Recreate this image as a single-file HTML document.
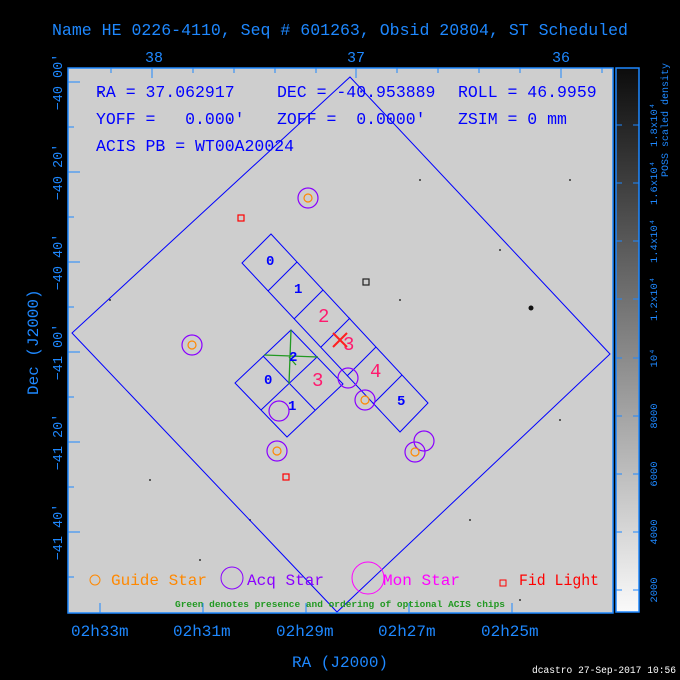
<!DOCTYPE html>
<html><head><style>
body{margin:0;background:#000;}
svg{display:block;}
text{font-family:"Liberation Mono",monospace;}
</style></head><body>
<svg width="680" height="680" viewBox="0 0 680 680" xmlns="http://www.w3.org/2000/svg">
<defs>
<linearGradient id="cb" x1="0" y1="1" x2="0" y2="0">
<stop offset="0" stop-color="#fafafa"/><stop offset="1" stop-color="#0c0c0c"/>
</linearGradient>
</defs>
<rect width="680" height="680" fill="#000"/>
<text x="52" y="35" fill="#1e88ff" font-size="17" textLength="576" lengthAdjust="spacingAndGlyphs">Name HE 0226-4110, Seq # 601263, Obsid 20804, ST Scheduled</text>
<rect x="68" y="68" width="545" height="545" fill="#cecece"/>
<g fill="#333">
<circle cx="100" cy="93" r="1"/><circle cx="160" cy="150" r="1"/><circle cx="230" cy="120" r="1"/><circle cx="420" cy="180" r="1"/><circle cx="500" cy="250" r="1"/><circle cx="560" cy="420" r="1"/><circle cx="150" cy="480" r="1"/><circle cx="470" cy="520" r="1"/><circle cx="200" cy="560" r="1"/><circle cx="570" cy="180" r="1"/><circle cx="110" cy="300" r="1"/><circle cx="400" cy="300" r="1"/><circle cx="250" cy="520" r="1"/><circle cx="520" cy="600" r="1"/>
<circle cx="531" cy="308" r="2.5" fill="#111"/>
</g>
<polygon points="350,77 610,354 337,612 72,333" fill="none" stroke="#0000ff" stroke-width="1"/>
<g fill="none" stroke="#0000ff" stroke-width="1">
<polygon points="271,234 428,403 400,432 242,263"/>
<line x1="297" y1="262" x2="268" y2="291"/>
<line x1="323" y1="290" x2="294" y2="319"/>
<line x1="350" y1="318" x2="321" y2="347"/>
<line x1="376" y1="347" x2="347" y2="376"/>
<line x1="402" y1="375" x2="373" y2="404"/>
<polygon points="291,330 343,384 287,437 235,383"/>
<line x1="263" y1="356" x2="315" y2="410"/>
<line x1="317" y1="357" x2="261" y2="410"/>
</g>
<g stroke="#229922" stroke-width="1.3" fill="none">
<line x1="291" y1="330" x2="289" y2="384"/>
<line x1="264" y1="355" x2="318" y2="357"/>
<line x1="289" y1="357" x2="296" y2="365"/>
</g>
<g font-size="14" fill="#0000ff" font-weight="bold">
<text x="266" y="265">0</text><text x="294" y="293">1</text><text x="397" y="405">5</text>
<text x="264" y="384">0</text><text x="288" y="410">1</text><text x="289" y="361">2</text>
</g>
<g font-size="19" fill="#ff1a6e">
<text x="318" y="322">2</text><text x="343" y="350">3</text><text x="370" y="377">4</text><text x="312" y="386">3</text>
</g>
<g stroke="#ff2020" stroke-width="2"><line x1="333" y1="333" x2="347" y2="347"/><line x1="347" y1="333" x2="333" y2="347"/></g>
<g fill="none" stroke="#8a00ff" stroke-width="1.2">
<circle cx="308" cy="198" r="10"/><circle cx="192" cy="345" r="10"/><circle cx="365" cy="400" r="10"/><circle cx="277" cy="451" r="10"/><circle cx="415" cy="452" r="10"/><circle cx="424" cy="441" r="10"/><circle cx="279" cy="411" r="10"/><circle cx="348" cy="378" r="10"/>
</g>
<g fill="none" stroke="#ff8800" stroke-width="1.2">
<circle cx="308" cy="198" r="4"/><circle cx="192" cy="345" r="4"/><circle cx="365" cy="400" r="4"/><circle cx="277" cy="451" r="4"/><circle cx="415" cy="452" r="4"/>
</g>
<g fill="none" stroke-width="1.2">
<rect x="238" y="215" width="6" height="6" stroke="#ff0000"/><rect x="283" y="474" width="6" height="6" stroke="#ff0000"/><rect x="363" y="279" width="6" height="6" stroke="#222"/>
</g>
<g fill="#0000ff" font-size="16.5">
<text x="96" y="97">RA = 37.062917</text><text x="277" y="97">DEC = -40.953889</text><text x="458" y="97">ROLL = 46.9959</text>
<text x="96" y="124" xml:space="preserve">YOFF =   0.000′</text><text x="277" y="124" xml:space="preserve">ZOFF =  0.0000′</text><text x="458" y="124">ZSIM = 0 mm</text>
<text x="96" y="151">ACIS PB = WT00A20024</text>
</g>
<circle cx="95" cy="580" r="5" fill="none" stroke="#ff8800"/>
<text x="111" y="585" fill="#ff8800" font-size="16" textLength="96" lengthAdjust="spacingAndGlyphs">Guide Star</text>
<circle cx="232" cy="578" r="11" fill="none" stroke="#8a00ff"/>
<text x="247" y="585" fill="#8a00ff" font-size="16" textLength="77" lengthAdjust="spacingAndGlyphs">Acq Star</text>
<circle cx="368" cy="578" r="16" fill="none" stroke="#ff00ff"/>
<text x="383" y="585" fill="#ff00ff" font-size="16" textLength="77" lengthAdjust="spacingAndGlyphs">Mon Star</text>
<rect x="500" y="580" width="6" height="6" fill="none" stroke="#ff0000"/>
<text x="519" y="585" fill="#ff0000" font-size="16" textLength="80" lengthAdjust="spacingAndGlyphs">Fid Light</text>
<text x="175" y="607" fill="#229922" font-size="9.5" font-weight="bold" textLength="330" lengthAdjust="spacingAndGlyphs">Green denotes presence and ordering of optional ACIS chips</text>
<rect x="68" y="68" width="545" height="545" fill="none" stroke="#1e88ff" stroke-width="1.5"/>
<g stroke="#1e88ff" stroke-width="1">
<line x1="152" y1="68" x2="152" y2="78"/><line x1="356" y1="68" x2="356" y2="78"/><line x1="561" y1="68" x2="561" y2="78"/>
<line x1="111" y1="68" x2="111" y2="73"/><line x1="193" y1="68" x2="193" y2="73"/><line x1="234" y1="68" x2="234" y2="73"/><line x1="275" y1="68" x2="275" y2="73"/><line x1="316" y1="68" x2="316" y2="73"/><line x1="397" y1="68" x2="397" y2="73"/><line x1="438" y1="68" x2="438" y2="73"/><line x1="479" y1="68" x2="479" y2="73"/><line x1="520" y1="68" x2="520" y2="73"/><line x1="602" y1="68" x2="602" y2="73"/>
<line x1="100" y1="613" x2="100" y2="603"/><line x1="203" y1="613" x2="203" y2="603"/><line x1="306" y1="613" x2="306" y2="603"/><line x1="409" y1="613" x2="409" y2="603"/><line x1="512" y1="613" x2="512" y2="603"/>
<line x1="68" y1="82" x2="80" y2="82"/><line x1="68" y1="172" x2="80" y2="172"/><line x1="68" y1="262" x2="80" y2="262"/><line x1="68" y1="352" x2="80" y2="352"/><line x1="68" y1="442" x2="80" y2="442"/><line x1="68" y1="532" x2="80" y2="532"/>
<line x1="68" y1="127" x2="74" y2="127"/><line x1="68" y1="217" x2="74" y2="217"/><line x1="68" y1="307" x2="74" y2="307"/><line x1="68" y1="397" x2="74" y2="397"/><line x1="68" y1="487" x2="74" y2="487"/><line x1="68" y1="577" x2="74" y2="577"/>
</g>
<g fill="#1e88ff" font-size="15">
<text x="145" y="62">38</text><text x="347" y="62">37</text><text x="552" y="62">36</text>
<g font-size="16">
<text x="71" y="636">02h33m</text><text x="173" y="636">02h31m</text><text x="276" y="636">02h29m</text><text x="378" y="636">02h27m</text><text x="481" y="636">02h25m</text>
<text x="292" y="667">RA (J2000)</text>
</g>
<g font-size="13.5" text-anchor="middle">
<text transform="translate(62,82) rotate(-90)">−40 00′</text>
<text transform="translate(62,172) rotate(-90)">−40 20′</text>
<text transform="translate(62,262) rotate(-90)">−40 40′</text>
<text transform="translate(62,352) rotate(-90)">−41 00′</text>
<text transform="translate(62,442) rotate(-90)">−41 20′</text>
<text transform="translate(62,532) rotate(-90)">−41 40′</text>
</g>
<text transform="translate(38,395) rotate(-90)" font-size="16">Dec (J2000)</text>
</g>
<rect x="616" y="68" width="23" height="544" fill="url(#cb)" stroke="#1e88ff" stroke-width="1.5"/>
<g stroke="#1e88ff"><line x1="616" y1="125" x2="622" y2="125"/><line x1="633" y1="125" x2="639" y2="125"/><line x1="616" y1="183" x2="622" y2="183"/><line x1="633" y1="183" x2="639" y2="183"/><line x1="616" y1="241" x2="622" y2="241"/><line x1="633" y1="241" x2="639" y2="241"/><line x1="616" y1="299" x2="622" y2="299"/><line x1="633" y1="299" x2="639" y2="299"/><line x1="616" y1="358" x2="622" y2="358"/><line x1="633" y1="358" x2="639" y2="358"/><line x1="616" y1="416" x2="622" y2="416"/><line x1="633" y1="416" x2="639" y2="416"/><line x1="616" y1="474" x2="622" y2="474"/><line x1="633" y1="474" x2="639" y2="474"/><line x1="616" y1="532" x2="622" y2="532"/><line x1="633" y1="532" x2="639" y2="532"/><line x1="616" y1="590" x2="622" y2="590"/><line x1="633" y1="590" x2="639" y2="590"/></g>
<g fill="#1e88ff" font-size="10.5" text-anchor="middle">
<text transform="translate(657,590) rotate(-90)">2000</text>
<text transform="translate(657,532) rotate(-90)">4000</text>
<text transform="translate(657,474) rotate(-90)">6000</text>
<text transform="translate(657,416) rotate(-90)">8000</text>
<text transform="translate(657,358) rotate(-90)">10⁴</text>
<text transform="translate(657,299) rotate(-90)">1.2x10⁴</text>
<text transform="translate(657,241) rotate(-90)">1.4x10⁴</text>
<text transform="translate(657,183) rotate(-90)">1.6x10⁴</text>
<text transform="translate(657,125) rotate(-90)">1.8x10⁴</text>
<text transform="translate(668,120) rotate(-90)" font-size="10">POSS scaled density</text>
</g>
<text x="532" y="673" fill="#fff" font-size="10" textLength="144" lengthAdjust="spacingAndGlyphs">dcastro 27-Sep-2017 10:56</text>
</svg>
</body></html>
